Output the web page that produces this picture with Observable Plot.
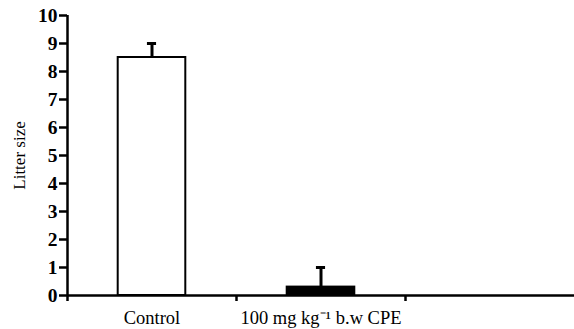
<!DOCTYPE html>
<html>
<head>
<meta charset="utf-8">
<script src="https://cdn.jsdelivr.net/npm/d3@7"></script>
<script src="https://cdn.jsdelivr.net/npm/@observablehq/plot@0.6"></script>
<style>
  html, body { margin: 0; padding: 0; background: #fff; }
</style>
</head>
<body>
<div id="chart"></div>
<script>
const categories = ["Control", "100 mg kg\u207B\u00B9 b.w CPE"];
const means = [8.5, 0.3];
const errors = [0.5, 0.7];
const fills = ["white", "black"];
const yTicks = [0, 1, 2, 3, 4, 5, 6, 7, 8, 9, 10];
const slotCount = 3;
const yLabel = "Litter size";

const data = categories.map((c, i) => ({c, i, mean: means[i], err: errors[i], fill: fills[i]}));
const barHalf = 0.2;
const capHalf = 0.027;
const serif = "Liberation Serif";

const chart = Plot.plot({
  width: 574,
  height: 329,
  marginLeft: 67,
  marginRight: 0,
  marginTop: 15,
  marginBottom: 34,
  style: {background: "white", color: "black"},
  x: {domain: [0, slotCount], axis: null},
  y: {domain: [0, 10], axis: null},
  color: {type: "identity"},
  marks: [
    Plot.rectY(data, {x1: d => d.i + 0.5 - barHalf, x2: d => d.i + 0.5 + barHalf, y1: 0, y2: "mean", fill: "fill", stroke: "black", strokeWidth: 2}),
    Plot.ruleX(data, {x: d => d.i + 0.5, y1: "mean", y2: d => d.mean + d.err, stroke: "black", strokeWidth: 3}),
    Plot.ruleY(data, {y: d => d.mean + d.err, x1: d => d.i + 0.5 - capHalf, x2: d => d.i + 0.5 + capHalf, stroke: "black", strokeWidth: 3}),
    Plot.axisX({ticks: [0, 1, 2], tickSize: 6, tickFormat: () => "", strokeWidth: 2.5, stroke: "black"}),
    Plot.axisY({ticks: yTicks, tickSize: 8, tickPadding: 2, tickFormat: d => String(d), fontSize: 19.5, fontWeight: "bold", fontFamily: serif, strokeWidth: 2.5, label: null, fill: "black"}),
    Plot.axisY({ticks: [], label: yLabel, labelAnchor: "center", labelArrow: "none", labelOffset: 55, fontSize: 17, fontFamily: serif, fill: "black"}),
    Plot.ruleX([0], {y1: 0, y2: 10, stroke: "black", strokeWidth: 2.5}),
    Plot.ruleY([0], {stroke: "black", strokeWidth: 2.5}),
    Plot.text(data, {x: d => d.i + 0.5, y: 0, text: "c", dy: 23, lineAnchor: "middle", fontSize: 18.5, fontFamily: serif, fill: "black"})
  ]
});
document.getElementById("chart").appendChild(chart);
</script>
</body>
</html>
